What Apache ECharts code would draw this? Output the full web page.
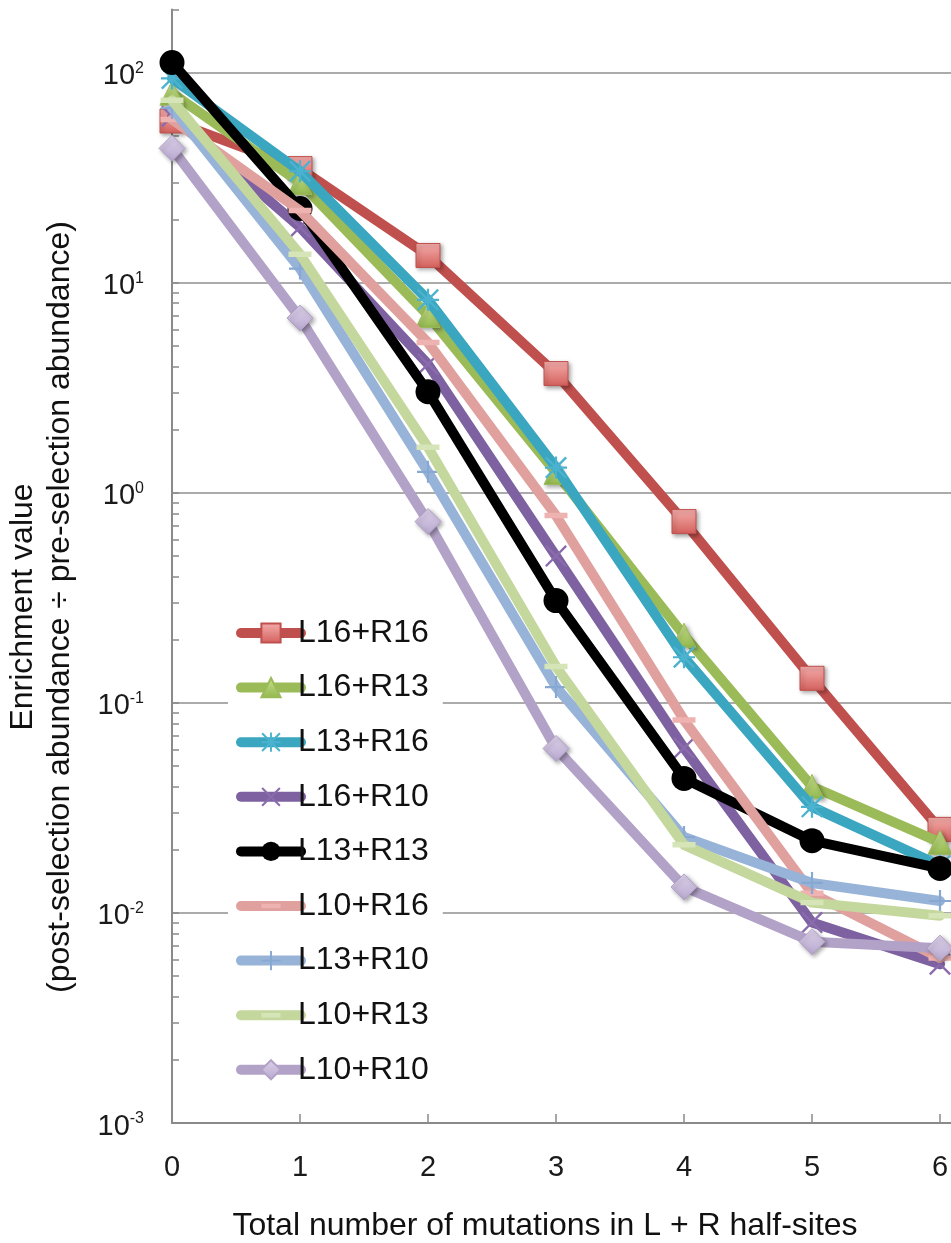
<!DOCTYPE html>
<html>
<head>
<meta charset="utf-8">
<script src="https://cdn.jsdelivr.net/npm/echarts@6/dist/echarts.min.js"></script>
<style>
html,body{margin:0;padding:0;background:#fff;}
#chart{width:951px;height:1243px;}
</style>
</head>
<body>
<div id="chart"></div>
<script>
// ---- data ----
const xValues = [0, 1, 2, 3, 4, 5, 6];
const seriesNames = ['L16+R16','L16+R13','L13+R16','L16+R10','L13+R13','L10+R16','L13+R10','L10+R13','L10+R10'];
const L16R16 = [59, 35, 13.5, 3.7, 0.73, 0.131, 0.025];
const L16R13 = [80, 30, 7.0, 1.25, 0.21, 0.040, 0.0217];
const L13R16 = [94, 34, 8.3, 1.32, 0.165, 0.032, 0.0168];
const L16R10 = [62, 18.4, 4.1, 0.50, 0.061, 0.0090, 0.0057];
const L13R13 = [112, 22.6, 3.03, 0.307, 0.0437, 0.0221, 0.0163];
const L10R16 = [60, 22.1, 5.2, 0.78, 0.083, 0.0124, 0.0061];
const L13R10 = [68, 11.7, 1.26, 0.119, 0.023, 0.0139, 0.0114];
const L10R13 = [74, 13.7, 1.65, 0.149, 0.0211, 0.0112, 0.0097];
const L10R10 = [43.7, 6.8, 0.73, 0.0607, 0.0133, 0.0073, 0.0068];
const yDecadeTicks = [0.001, 0.01, 0.1, 1, 10, 100];
const xTickLabels = [0, 1, 2, 3, 4, 5, 6];
const yAxisTitle = 'Enrichment value\n(post-selection abundance \u00f7 pre-selection abundance)';
const xAxisTitle = 'Total number of mutations in L + R half-sites';

const seriesValues = [L16R16, L16R13, L13R16, L16R10, L13R13, L10R16, L13R10, L10R13, L10R10];

// ---- styles ----
const FONT = '"Liberation Sans", Arial, Helvetica, sans-serif';
const P_AST = 'path://M9,0h2v20h-2z M0,9h20v2h-20z M1.5,0 L20,18.5 L18.5,20 L0,1.5z M18.5,0 L20,1.5 L1.5,20 L0,18.5z';
const P_X = 'path://M1.5,0 L20,18.5 L18.5,20 L0,1.5z M18.5,0 L20,1.5 L1.5,20 L0,18.5z';
const P_PLUS = 'path://M9,0h2v20h-2z M0,9h20v2h-20z';
// dash with invisible extent points so that the bounding box stays square
const P_DASH = 'path://M0,0L0.01,0Z M0,8h20v5h-20z M0,21L0.01,21Z';
function grad(a, b) {
  return new echarts.graphic.LinearGradient(0, 0, 0, 1, [{offset:0,color:a},{offset:1,color:b}]);
}
const styles = [
  {line:'#c0504d', symbol:'rect', size:24, fill:grad('#f4aeac','#d4605c'), border:'#c0504d', shadow:true},
  {line:'#9bbb59', symbol:'triangle', size:24, fill:grad('#c8e08f','#93b84e'), border:'#9bbb59', shadow:true},
  {line:'#3aa6c0', symbol:P_AST, size:22, fill:'#4bb3cf', border:null},
  {line:'#7e61a0', symbol:P_X, size:22, fill:'#8a6cae', border:null},
  {line:'#000000', symbol:'circle', size:25, fill:'#000000', border:null},
  {line:'#e0a09e', symbol:P_DASH, size:23, fill:'#eeb3b1', border:null},
  {line:'#97b4d8', symbol:P_PLUS, size:22, fill:'#86a8d3', border:null},
  {line:'#c4d79d', symbol:P_DASH, size:23, fill:'#d6e5b8', border:null},
  {line:'#b3a2c8', symbol:'diamond', size:26, fill:grad('#dcd2ea','#b8a8cf'), border:'#b3a2c8', shadow:true}
];

// minor tick positions for the log axis (1..9 within each decade)
const minorTicks = [];
yDecadeTicks.forEach(d => { for (let k = 1; k <= 9; k++) minorTicks.push(+(d * k).toPrecision(6)); });
minorTicks.push(200);

const series = seriesNames.map((name, i) => {
  const st = styles[i];
  return {
    name: name,
    type: 'line',
    xAxisIndex: 0,
    yAxisIndex: 0,
    data: xValues.map((x, j) => [x, seriesValues[i][j]]),
    symbol: st.symbol,
    symbolSize: st.size,
    showSymbol: true,
    showAllSymbol: true,
    animation: false,
    z: 2 + i,
    lineStyle: {color: st.line, width: 10, cap: 'round', join: 'round'},
    itemStyle: Object.assign({
      color: st.fill,
      borderColor: st.border || st.line,
      borderWidth: st.border ? 1 : 0
    }, st.shadow ? {shadowBlur: 4, shadowOffsetX: 2, shadowOffsetY: 2, shadowColor: 'rgba(0,0,0,0.35)'} : {}),
    emphasis: {disabled: true}
  };
});

const chart = echarts.init(document.getElementById('chart'), null, {renderer: 'canvas'});
chart.setOption({
  backgroundColor: '#ffffff',
  animation: false,
  textStyle: {fontFamily: FONT},
  grid: {left: 172, right: 0, top: 9.6, bottom: 120, outerBoundsMode: 'none', containLabel: false},
  xAxis: {
    type: 'value',
    min: 0,
    max: (951 - 172) / 128,
    interval: 1,
    axisLine: {show: true, lineStyle: {color: '#8a8a8a', width: 2}},
    axisTick: {show: true, inside: true, length: 9, customValues: xTickLabels, lineStyle: {color: '#8a8a8a', width: 1.5}},
    axisLabel: {show: true, customValues: xTickLabels, fontSize: 29, color: '#1a1a1a', margin: 30, fontFamily: FONT},
    splitLine: {show: false}
  },
  yAxis: [
    {
      type: 'log',
      logBase: 10,
      min: 0.001,
      max: 200,
      axisLine: {show: true, lineStyle: {color: '#8a8a8a', width: 2}},
      axisTick: {show: false},
      splitLine: {show: true, showMaxLine: false, showMinLine: false, lineStyle: {color: '#8f8f8f', width: 1.5}},
      axisLabel: {
        show: true,
        customValues: yDecadeTicks,
        margin: 28,
        fontSize: 29,
        lineHeight: 32,
        padding: [7, 0, 0, 0],
        color: '#1a1a1a',
        fontFamily: FONT,
        formatter: function (v) {
          const l = Math.log10(v);
          const e = Math.round(l);
          if (Math.abs(l - e) > 1e-6) return '';
          return '10{s|' + e + '}';
        },
        rich: {s: {fontSize: 16, lineHeight: 16, verticalAlign: 'top', color: '#1a1a1a', fontFamily: FONT}}
      }
    },
    {
      type: 'log',
      logBase: 10,
      min: 0.001,
      max: 200,
      position: 'left',
      axisLine: {show: false},
      axisLabel: {show: false},
      splitLine: {show: false},
      axisTick: {show: true, inside: true, length: 7, customValues: minorTicks, lineStyle: {color: '#8a8a8a', width: 1.5}}
    }
  ],
  legend: {
    orient: 'vertical',
    left: 228,
    top: 609,
    backgroundColor: '#ffffff',
    padding: [8, 14, 8, 8],
    itemWidth: 60,
    itemHeight: 24,
    itemGap: 22.6,
    lineStyle: {width: 10, cap: 'round'},
    textStyle: {fontSize: 32, lineHeight: 32, color: '#111111', fontFamily: FONT, padding: [0, 0, 0, -8]},
    data: seriesNames
  },
  graphic: [
    {type: 'text', x: 42, y: 607, rotation: Math.PI / 2,
     style: {text: yAxisTitle, font: '32px ' + FONT, fill: '#111111', align: 'center', verticalAlign: 'middle', textAlign: 'center', textVerticalAlign: 'middle', lineHeight: 37}},
    {type: 'text', x: 545, y: 1226,
     style: {text: xAxisTitle, font: '32px ' + FONT, fill: '#111111', align: 'center', verticalAlign: 'middle', textAlign: 'center', textVerticalAlign: 'middle'}}
  ],
  series: series
});
</script>
</body>
</html>
